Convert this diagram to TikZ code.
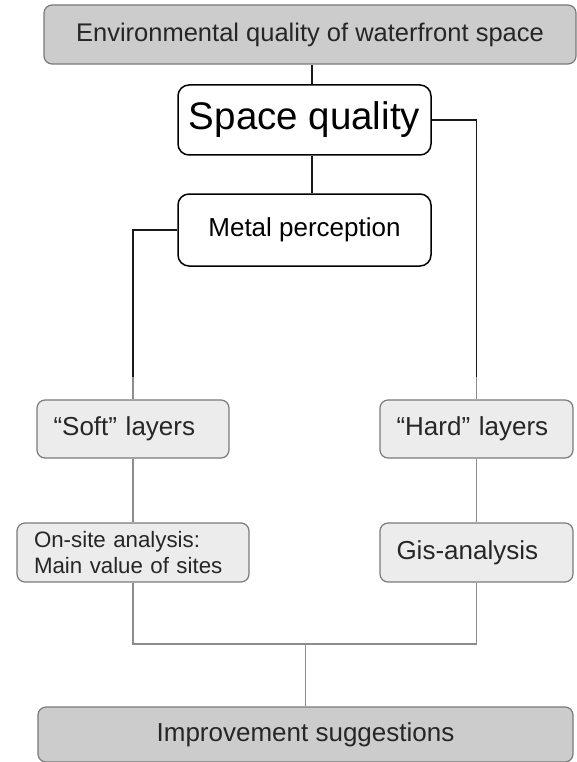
\documentclass[tikz,border=0pt]{standalone}
\usepackage{fontspec}
\setmainfont{Liberation Sans}
\definecolor{darkfill}{HTML}{CCCCCC}
\definecolor{lightfill}{HTML}{ECECEC}
\definecolor{boxedge}{HTML}{7A7A7A}
\definecolor{linegray}{HTML}{8C8C8C}
\begin{document}
\begin{tikzpicture}[x=1pt,y=-1pt,
  graybox/.style={draw=boxedge,line width=1.2pt,fill=darkfill,rounded corners=8pt,inner sep=0pt,text=black!85},
  lightbox/.style={draw=boxedge,line width=1.2pt,fill=lightfill,rounded corners=8pt,inner sep=0pt,text=black!85},
  whitebox/.style={draw=black,line width=1.5pt,fill=white,rounded corners=11pt,inner sep=0pt},
  blackline/.style={draw=black!90,line width=1.4pt},
  grayline/.style={draw=linegray,line width=1.2pt}]
\useasboundingbox (0,0) rectangle (577,762);
\begin{scope}
\clip (0,0) rectangle (577,762);
\node[graybox,minimum width=532pt,minimum height=59pt,font=\fontsize{25.5}{28}\selectfont] (top) at (310,34.5) {Environmental quality of waterfront space};
\node[graybox,minimum width=535pt,minimum height=55pt,font=\fontsize{26}{28}\selectfont] (improve) at (305.5,734.5) {Improvement suggestions};
\end{scope}
\node[whitebox,minimum width=253pt,minimum height=70pt,font=\fontsize{38.5}{40}\selectfont] (sq) at (304.5,120) {Space quality};
\node[whitebox,minimum width=253pt,minimum height=72pt,font=\fontsize{26}{28}\selectfont] (metal) at (304.5,230) {Metal perception};
\node[lightbox,minimum width=192pt,minimum height=58pt,font=\fontsize{26}{28}\selectfont,text width=192pt-33pt,align=left] (soft) at (133,429) {“Soft” layers};
\node[lightbox,minimum width=193pt,minimum height=58pt,font=\fontsize{26}{28}\selectfont,text width=193pt-33pt,align=left] (hard) at (476.5,429) {“Hard” layers};
\node[lightbox,minimum width=232pt,minimum height=59pt,font=\fontsize{22.3}{26}\selectfont,text width=232pt-34pt,align=left] (onsite) at (133,552.5) {On-site analysis:\\Main value of sites};
\node[lightbox,minimum width=193pt,minimum height=59pt,font=\fontsize{26}{28}\selectfont,text width=193pt-33pt,align=left] (gis) at (476.5,552.5) {Gis-analysis};
% upper connectors
\draw[blackline] ([xshift=2pt]top.south) -- ([xshift=2pt]top.south |- sq.north);
\draw[blackline] ([xshift=7.5pt]sq.south) -- ([xshift=7.5pt]metal.north);
\coordinate (hj) at (476.5,377);
\coordinate (sj) at (133,377);
\draw[blackline] (sq.east) -| (hj);
\draw[grayline] (hj) -- (hard.north);
\draw[blackline] (metal.west) -| (sj);
\draw[grayline] (sj) -- (soft.north);
% lower connectors
\draw[grayline] (soft.south) -- (onsite.north);
\draw[grayline] (hard.south) -- (gis.north);
\coordinate (lj) at (133,644);
\coordinate (rj) at (476.5,644);
\coordinate (mj) at (305.5,644);
\draw[grayline] (onsite.south) -- (lj) -- (rj) -- (gis.south);
\draw[grayline] (mj) -- (improve.north);
\end{tikzpicture}
\end{document}
